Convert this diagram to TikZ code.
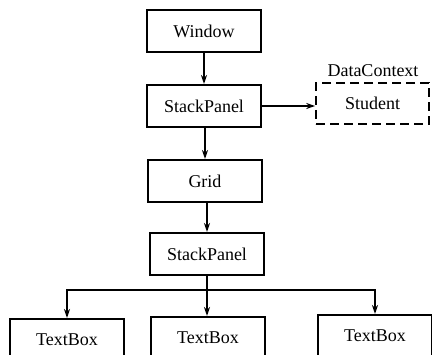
\documentclass[tikz,border=0pt]{standalone}
\usepackage{fontspec}
\setmainfont{Liberation Serif}
\usetikzlibrary{arrows.meta}
\begin{document}
\begin{tikzpicture}[x=1pt,y=-1pt,
  txt/.style={font=\fontsize{18}{20}\selectfont},
  box/.style={draw,line width=2pt,minimum width=114pt,minimum height=42pt,inner sep=0pt,txt},
  dbox/.style={box,line width=1.6pt,dash pattern=on 9pt off 5pt,minimum width=113pt,minimum height=41pt},
  arr/.style={line width=1.3pt,-{Stealth[length=9pt,width=6pt]}}]
\useasboundingbox (0,0) rectangle (432,355);
\clip (0,0) rectangle (432,355);
\node[box] (win) at (204,31) {Window};
\node[box] (sp1) at (204,106) {StackPanel};
\node[dbox] (stu) at (372.5,103.5) {Student};
\node[txt] (dc) at (373,71) {DataContext};
\node[box] (grid) at (205,181) {Grid};
\node[box] (sp2) at (207,254) {StackPanel};
\node[box,anchor=north] (tb1) at (67,318) {TextBox};
\node[box,anchor=north] (tb2) at (208,316) {TextBox};
\node[box,anchor=north] (tb3) at (375,314) {TextBox};
\draw[arr] (win.south) -- (win.south |- sp1.north);
\draw[arr] (grid.north |- sp1.south) -- (grid.north);
\draw[arr] (sp2.north |- grid.south) -- (sp2.north);
\draw[arr] (sp1.east) -- (stu.west |- sp1.east);
\coordinate (br) at (207,290);
\draw[arr] (sp2.south) -- (sp2.south |- tb2.north);
\draw[arr] (br) -| (tb1.north);
\draw[arr] (br) -| (tb3.north);
\end{tikzpicture}
\end{document}
